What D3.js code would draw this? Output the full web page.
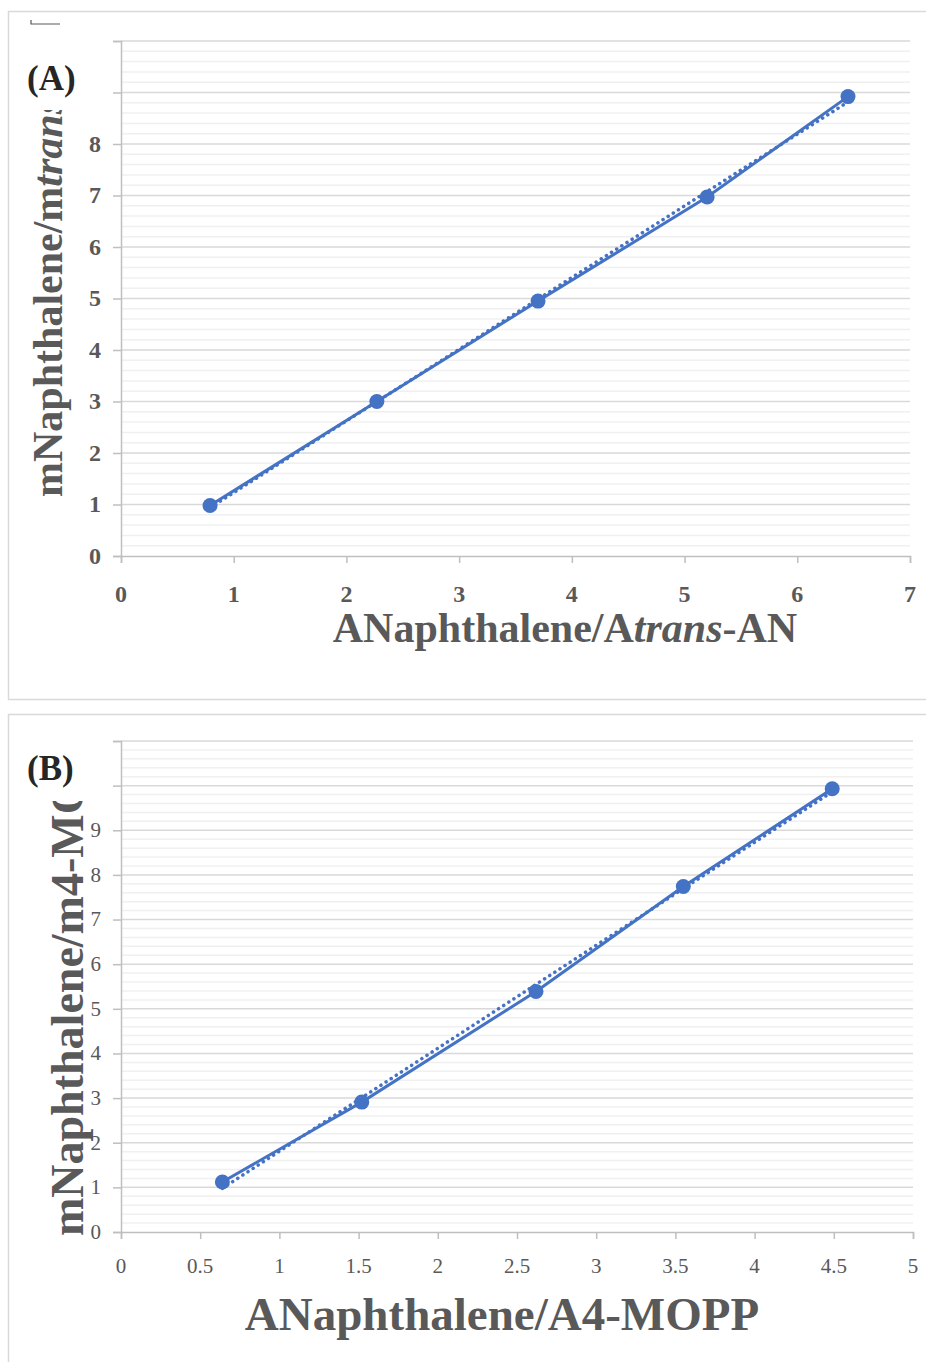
<!DOCTYPE html>
<html>
<head>
<meta charset="utf-8">
<script src="https://cdn.jsdelivr.net/npm/d3@7"></script>
<style>
  body { margin: 0; background: #fff; }
  svg { display: block; }
  text { font-family: "Liberation Serif", "Times New Roman", serif; fill: #595959; }
</style>
</head>
<body>
<div id="chart"></div>
<script>
// panel A data
const xA = [0.79, 2.27, 3.70, 5.20, 6.45];
const yA = [0.98, 3.00, 4.95, 6.97, 8.92];
const xTicksA = [0, 1, 2, 3, 4, 5, 6, 7];
const yTicksA = [0, 1, 2, 3, 4, 5, 6, 7, 8, 9, 10];
const yLabelsA = [0, 1, 2, 3, 4, 5, 6, 7, 8];

// panel B data
const xB = [0.64, 1.52, 2.62, 3.55, 4.49];
const yB = [1.12, 2.91, 5.39, 7.74, 9.93];
const xTicksB = [0, 0.5, 1, 1.5, 2, 2.5, 3, 3.5, 4, 4.5, 5];
const yTicksB = [0, 1, 2, 3, 4, 5, 6, 7, 8, 9, 10, 11];
const yLabelsB = [0, 1, 2, 3, 4, 5, 6, 7, 8, 9];

const blue = '#4472C4';

const svg = d3.select('#chart')
    .append('svg')
    .attr('width', 926)
    .attr('height', 1362);

const defs = svg.append('defs');

// least squares line, like the spreadsheet trendline
function fit(xs, ys) {
    const mx = d3.mean(xs), my = d3.mean(ys);
    const b = d3.sum(xs, (x, i) => (x - mx) * (ys[i] - my)) / d3.sum(xs, x => (x - mx) ** 2);
    return x => my + b * (x - mx);
}

function panel(opt) {
    // frame
    svg.append('rect')
        .attr('x', 8.5).attr('y', opt.top + 0.5)
        .attr('width', 930).attr('height', opt.h)
        .attr('fill', 'none').attr('stroke', '#d9d9d9').attr('stroke-width', 1.5);

    const x = d3.scaleLinear().domain(opt.xDom).range([121, opt.right]);
    const y = d3.scaleLinear().domain(opt.yDom).range([opt.y0, opt.y1]);

    const g = svg.append('g');

    // minor grid (5 steps per unit)
    const minor = d3.range(opt.yDom[0], opt.yDom[1] + 1e-9, 0.2)
        .filter(v => Math.abs(v - Math.round(v)) > 1e-6);
    g.selectAll('.minor')
        .data(minor)
        .enter()
        .append('line')
        .attr('x1', 121).attr('x2', opt.right)
        .attr('y1', d => y(d)).attr('y2', d => y(d))
        .attr('stroke', '#f0f0f0').attr('stroke-width', 1.5);

    // major grid
    g.selectAll('.major')
        .data(opt.yTicks.slice(1))
        .enter()
        .append('line')
        .attr('x1', 121).attr('x2', opt.right)
        .attr('y1', d => y(d)).attr('y2', d => y(d))
        .attr('stroke', '#d9d9d9').attr('stroke-width', 1.5);

    // axes
    const xAxis = d3.axisBottom(x).tickValues(opt.xTicks).tickSize(7).tickFormat('');
    const yAxis = d3.axisLeft(y).tickValues(opt.yTicks).tickSize(8).tickFormat('');
    const xg = g.append('g').attr('transform', `translate(0, ${opt.y0})`).call(xAxis);
    const yg = g.append('g').attr('transform', 'translate(121, 0)').call(yAxis);
    [xg, yg].forEach(a => {
        a.select('.domain').attr('stroke', '#bfbfbf').attr('stroke-width', 1.5);
        a.selectAll('.tick line').attr('stroke', '#bfbfbf').attr('stroke-width', 1.5);
    });

    // tick labels
    g.selectAll('.xl')
        .data(opt.xTicks)
        .enter()
        .append('text')
        .attr('x', d => x(d))
        .attr('y', opt.xLabY)
        .attr('text-anchor', 'middle')
        .style('font-size', opt.tickSize + 'px')
        .style('font-weight', opt.tickWeight)
        .text(d => d);
    g.selectAll('.yl')
        .data(opt.yLabels)
        .enter()
        .append('text')
        .attr('x', 101)
        .attr('y', d => y(d) + opt.tickSize * 0.33)
        .attr('text-anchor', 'end')
        .style('font-size', opt.tickSize + 'px')
        .style('font-weight', opt.tickWeight)
        .text(d => d);

    // y axis title, clipped like the original
    const cid = 'clip' + opt.name;
    defs.append('clipPath').attr('id', cid)
        .append('rect').attr('x', 0).attr('y', opt.clipTop)
        .attr('width', 120).attr('height', 1362);
    const yt = svg.append('g').attr('clip-path', `url(#${cid})`)
        .append('text')
        .attr('transform', `translate(${opt.ytX}, ${opt.ytY}) rotate(-90)`)
        .attr('text-anchor', 'start')
        .style('font-size', opt.ytSize + 'px')
        .style('font-weight', 'bold');
    opt.yTitle.forEach(p => yt.append('tspan').style('font-style', p[1] ? 'italic' : 'normal').text(p[0]));

    // x axis title
    const xt = svg.append('text')
        .attr('x', opt.xtX).attr('y', opt.xtY)
        .attr('text-anchor', 'middle')
        .style('font-size', opt.xtSize + 'px')
        .style('font-weight', 'bold');
    opt.xTitle.forEach(p => xt.append('tspan').style('font-style', p[1] ? 'italic' : 'normal').text(p[0]));

    // panel letter
    svg.append('text')
        .attr('x', 27).attr('y', opt.letterY)
        .style('font-size', '35px')
        .style('font-weight', 'bold')
        .style('fill', '#262626')
        .text(opt.letter);

    // series
    const pts = opt.xs.map((v, i) => [v, opt.ys[i]]);
    const f = fit(opt.xs, opt.ys);
    const ext = d3.extent(opt.xs);
    g.append('line')
        .attr('x1', x(ext[0])).attr('y1', y(f(ext[0])))
        .attr('x2', x(ext[1])).attr('y2', y(f(ext[1])))
        .attr('stroke', blue).attr('stroke-width', 3.5)
        .attr('stroke-dasharray', '0.1 6').attr('stroke-linecap', 'round');
    g.append('path')
        .datum(pts)
        .attr('d', d3.line().x(d => x(d[0])).y(d => y(d[1])))
        .attr('fill', 'none').attr('stroke', blue).attr('stroke-width', 3);
    g.selectAll('.pt')
        .data(pts)
        .enter()
        .append('circle')
        .attr('cx', d => x(d[0])).attr('cy', d => y(d[1]))
        .attr('r', 7.5).attr('fill', blue);
}

panel({
    name: 'A', top: 11, h: 688, right: 910,
    xDom: [0, 7], yDom: [0, 10], y0: 556, y1: 41,
    xs: xA, ys: yA, xTicks: xTicksA, yTicks: yTicksA, yLabels: yLabelsA,
    tickSize: 24, tickWeight: 'bold', xLabY: 602,
    yTitle: [['mNaphthalene/m', false], ['trans-AN', true]],
    ytX: 62, ytY: 497, ytSize: 42, clipTop: 110,
    xTitle: [['ANaphthalene/A', false], ['trans', true], ['-AN', false]],
    xtX: 565, xtY: 642, xtSize: 42,
    letter: '(A)', letterY: 90
});

panel({
    name: 'B', top: 714, h: 660, right: 913,
    xDom: [0, 5], yDom: [0, 11], y0: 1232, y1: 741,
    xs: xB, ys: yB, xTicks: xTicksB, yTicks: yTicksB, yLabels: yLabelsB,
    tickSize: 21, tickWeight: 'normal', xLabY: 1273,
    yTitle: [['mNaphthalene/m4-MOPP', false]],
    ytX: 83, ytY: 1236, ytSize: 46, clipTop: 801,
    xTitle: [['ANaphthalene/A4-MOPP', false]],
    xtX: 502, xtY: 1330, xtSize: 47,
    letter: '(B)', letterY: 780
});

// small leftover mark at the top left
svg.append('path')
    .attr('d', 'M31,20 V24 H60')
    .attr('fill', 'none').attr('stroke', '#595959').attr('stroke-width', 1.2);
</script>
</body>
</html>
